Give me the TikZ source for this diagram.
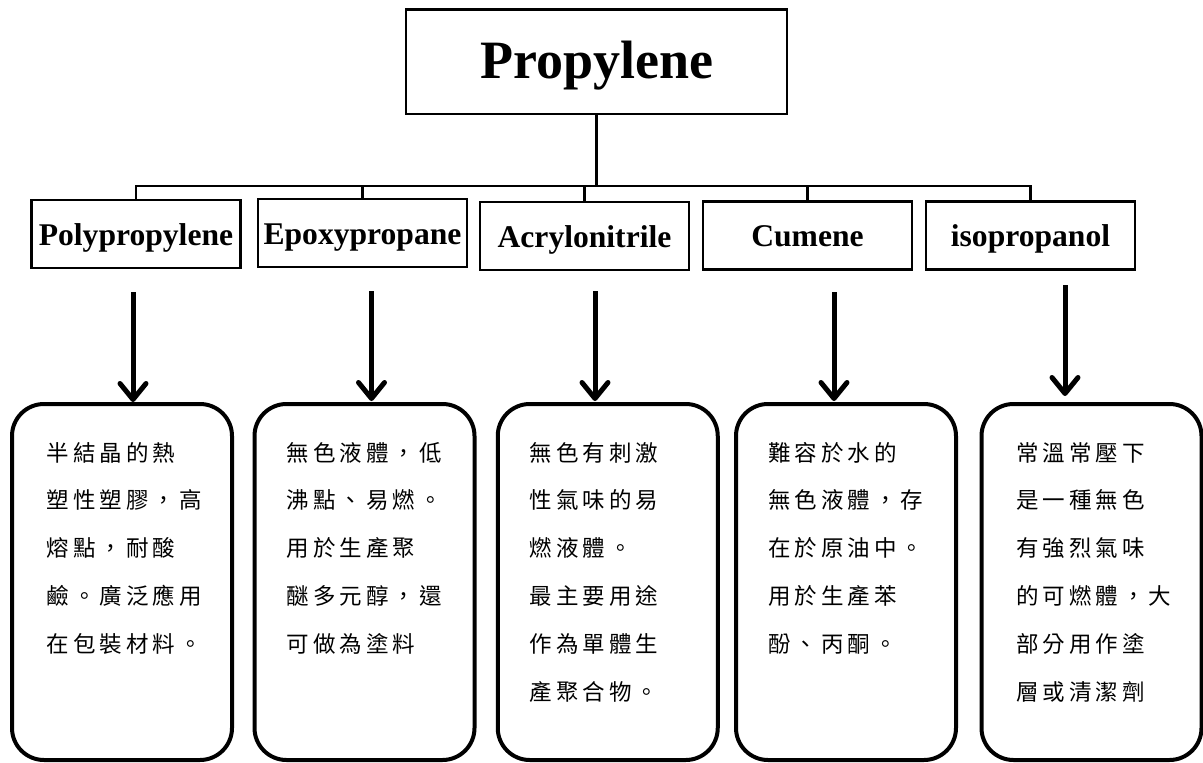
\documentclass[tikz,border=0pt]{standalone}
\usepackage{fontspec}
\setmainfont{Liberation Serif}
\newfontfamily\cjk{Noto Sans CJK TC}
\usetikzlibrary{arrows.meta}
\makeatletter
\newcommand\cjkspaced[1]{\cjk@sp#1\@nil}
\def\cjk@sp#1{\ifx#1\@nil\else\makebox[26.5pt][l]{#1}\expandafter\cjk@sp\fi}
\makeatother
\tikzset{
  topbox/.style={draw, line width=2.7pt, minimum width=381pt, minimum height=104.7pt,
    inner sep=0pt, font=\bfseries\fontsize{54}{60}\selectfont, text height=33pt, text depth=0pt},
  childbox/.style={draw, line width=2.5pt, minimum width=209pt, minimum height=68pt,
    inner sep=0pt, font=\bfseries\fontsize{31.6}{36}\selectfont, text height=22pt, text depth=0pt},
  bbox/.style={draw, line width=4pt, rounded corners=32pt, minimum width=220pt, minimum height=356pt, inner sep=0pt},
  conn/.style={line width=2.6pt},
  arr/.style={line width=5pt, -{Straight Barb[length=16pt, width=26pt, round]}},
  cjkline/.style={anchor=base west, inner sep=0pt, font=\cjk\fontsize{22.5}{22.5}\selectfont}
}
\begin{document}
\begin{tikzpicture}[x=1pt,y=-1pt]
\useasboundingbox (0,0) rectangle (1203,763);
% top
\node[topbox] (top) at (596.5,61.7) {Propylene};
% children
\node[childbox] (c1) at (136,234) {Polypropylene};
\node[childbox] (c2) at (362.5,233) {Epoxypropane};
\node[childbox] (c3) at (584.5,236) {Acrylonitrile};
\node[childbox] (c4) at (807.5,235.5) {Cumene};
\node[childbox] (c5) at (1030.5,235.5) {isopropanol};
% tree connectors
\coordinate (bus) at (596.5,186);
\draw[conn] (top.south) -- (bus);
\draw[conn] (c1.north) |- (bus) -| (c5.north);
\draw[conn] (c2.north) -- (c2.north |- bus);
\draw[conn] (c3.north) -- (c3.north |- bus);
\draw[conn] (c4.north) -- (c4.north |- bus);
% bottom boxes
\node[bbox] (b1) at (122,582) {};
\node[bbox] (b2) at (364.5,582) {};
\node[bbox] (b3) at (607.75,582) {};
\node[bbox] (b4) at (846,582) {};
\node[bbox] (b5) at (1091.5,582) {};
% arrows
\coordinate (s1) at (133,292);
\coordinate (s2) at (371.5,291);
\coordinate (s3) at (595,291);
\coordinate (s4) at (834,292);
\coordinate (s5) at (1065,285);
\draw[arr] (s1) -- (s1 |- b1.north);
\draw[arr] (s2) -- ([yshift=1pt]s2 |- b2.north);
\draw[arr] (s3) -- ([yshift=1pt]s3 |- b3.north);
\draw[arr] (s4) -- ([yshift=1pt]s4 |- b4.north);
\draw[arr] (s5) -- ([yshift=6pt]s5 |- b5.north);
% texts
\foreach \txt [count=\i] in {半結晶的熱,塑性塑膠，高,熔點，耐酸,鹼。廣泛應用,在包裝材料。}
  \node[cjkline] (ta-\i) at (46.5,{461+47.8*(\i-1)}) {\expandafter\cjkspaced\expandafter{\txt}};
\foreach \txt [count=\i] in {無色液體，低,沸點、易燃。,用於生產聚,醚多元醇，還,可做為塗料}
  \node[cjkline] (tb-\i) at (286.5,{461+47.8*(\i-1)}) {\expandafter\cjkspaced\expandafter{\txt}};
\foreach \txt [count=\i] in {無色有刺激,性氣味的易,燃液體。,最主要用途,作為單體生,產聚合物。}
  \node[cjkline] (tc-\i) at (529.5,{461+47.8*(\i-1)}) {\expandafter\cjkspaced\expandafter{\txt}};
\foreach \txt [count=\i] in {難容於水的,無色液體，存,在於原油中。,用於生產苯,酚、丙酮。}
  \node[cjkline] (td-\i) at (768,{461+47.8*(\i-1)}) {\expandafter\cjkspaced\expandafter{\txt}};
\foreach \txt [count=\i] in {常溫常壓下,是一種無色,有強烈氣味,的可燃體，大,部分用作塗,層或清潔劑}
  \node[cjkline] (te-\i) at (1016,{461+47.8*(\i-1)}) {\expandafter\cjkspaced\expandafter{\txt}};
\end{tikzpicture}
\end{document}
